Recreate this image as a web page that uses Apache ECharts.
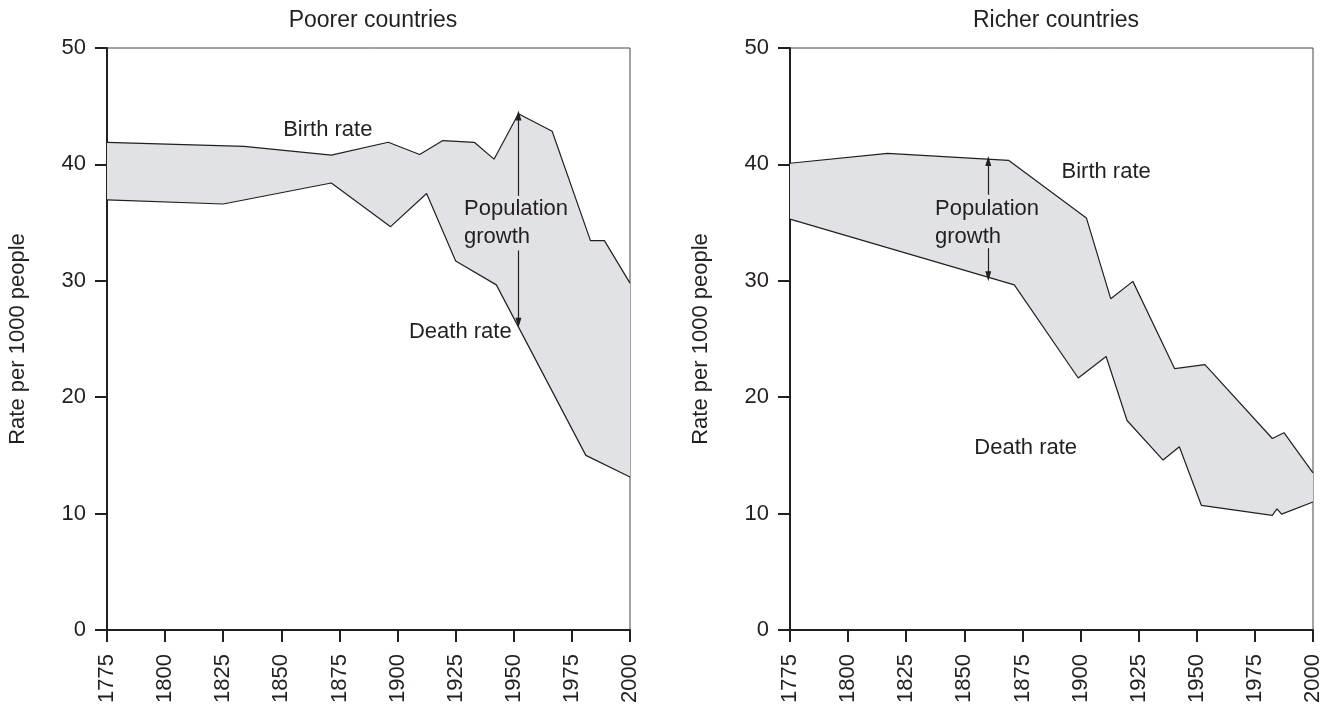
<!DOCTYPE html>
<html>
<head>
<meta charset="utf-8">
<script src="https://cdn.jsdelivr.net/npm/echarts@6/dist/echarts.min.js"></script>
<style>
html,body{margin:0;padding:0;background:#fff;}
#chart{width:1332px;height:709px;}
</style>
</head>
<body>
<div id="chart"></div>
<script>
// ---- Data ----
const panelTitles = ['Poorer countries', 'Richer countries'];
const yAxisName = 'Rate per 1000 people';

const poorBirthYears = [1775, 1834, 1871.5, 1896, 1909.5, 1919.5, 1933, 1941.5, 1952, 1966.5, 1983, 1989, 2000];
const poorBirthRates = [41.9, 41.55, 40.8, 41.9, 40.85, 42.05, 41.9, 40.45, 44.35, 42.85, 33.45, 33.45, 29.8];
const poorDeathYears = [1775, 1825, 1871.5, 1897, 1912.5, 1925, 1942.5, 1981, 2000];
const poorDeathRates = [36.95, 36.6, 38.4, 34.65, 37.5, 31.7, 29.65, 15.0, 13.15];

const richBirthYears = [1775, 1817, 1869, 1902.5, 1913, 1922.5, 1940.5, 1953.5, 1982.5, 1987.5, 2000];
const richBirthRates = [40.1, 40.95, 40.35, 35.4, 28.45, 29.95, 22.45, 22.8, 16.45, 16.95, 13.5];
const richDeathYears = [1775, 1871.5, 1899, 1911, 1920, 1935.5, 1942.5, 1952, 1982.5, 1984.5, 1986.5, 2000];
const richDeathRates = [35.3, 29.65, 21.65, 23.5, 18.0, 14.6, 15.75, 10.7, 9.85, 10.4, 9.95, 11.0];

// Annotation texts and anchor points (data coordinates)
const labelTexts = ['Birth rate', 'Population\ngrowth', 'Death rate'];
const poorLabelYears = [1870, 1928.6, 1949.1];
const poorLabelValues = [43.0, 35.0, 25.6];
const richLabelYears = [1911, 1837.4, 1898.5];
const richLabelValues = [39.35, 35.0, 15.6];

// Population growth arrows: year, top, gap top, gap bottom, bottom
const poorArrow = [1952, 44.2, 37.3, 32.6, 26.4];
const richArrow = [1860.3, 40.3, 37.4, 32.8, 30.4];

// ---- Chart ----
const FONT = 'Liberation Sans, Arial, Helvetica, sans-serif';
const TXT = '#231f20';
const FILL = '#e1e2e6';
const LINE = '#231f20';

function zip(xs, ys) { return xs.map((x, i) => [x, ys[i]]); }

function bandSeries(idx, bx, by, dx, dy) {
  return {
    type: 'custom', xAxisIndex: idx, yAxisIndex: idx, z: 1, silent: true,
    data: [[bx[0], by[0]]],
    renderItem: function (params, api) {
      const pts = [];
      for (let i = 0; i < bx.length; i++) pts.push(api.coord([bx[i], by[i]]));
      for (let i = dx.length - 1; i >= 0; i--) pts.push(api.coord([dx[i], dy[i]]));
      return { type: 'polygon', shape: { points: pts }, style: { fill: FILL, stroke: null } };
    }
  };
}

function lineSeries(idx, xs, ys) {
  return {
    type: 'line', xAxisIndex: idx, yAxisIndex: idx, z: 3, silent: true,
    data: zip(xs, ys), symbol: 'none', animation: false,
    lineStyle: { color: LINE, width: 1.2 }
  };
}

function arrowSeries(idx, a) {
  return {
    type: 'line', xAxisIndex: idx, yAxisIndex: idx, z: 4, silent: true, data: [],
    markLine: {
      silent: true, animation: false,
      symbol: ['none', 'path://M0,0L3,10L-3,10Z'],
      symbolSize: 10,
      symbolKeepAspect: true,
      lineStyle: { color: LINE, width: 1.2, type: 'solid' },
      itemStyle: { color: LINE },
      label: { show: false },
      data: [
        [{ coord: [a[0], a[2]] }, { coord: [a[0], a[1]] }],
        [{ coord: [a[0], a[3]] }, { coord: [a[0], a[4]] }]
      ]
    }
  };
}

function labelSeries(idx, xs, ys) {
  const aligns = ['center', 'left', 'right'];
  return {
    type: 'scatter', xAxisIndex: idx, yAxisIndex: idx, z: 5, silent: true,
    symbolSize: 0,
    itemStyle: { opacity: 1 },
    data: xs.map((x, i) => ({
      value: [x, ys[i]],
      label: {
        show: true, position: 'inside', formatter: labelTexts[i],
        align: aligns[i], verticalAlign: 'middle', opacity: 1,
        textBorderWidth: 0,
        fontSize: 22, lineHeight: 28, color: TXT, fontFamily: FONT
      }
    }))
  };
}

function xAxisCfg(idx) {
  return {
    type: 'value', gridIndex: idx, min: 1775, max: 2000, interval: 25,
    axisLine: { show: true, onZero: false, lineStyle: { color: TXT, width: 2 } },
    axisTick: { show: true, inside: false, length: 12, lineStyle: { color: TXT, width: 2 } },
    axisLabel: { rotate: 90, fontSize: 22, color: TXT, fontFamily: FONT, margin: 24,
      formatter: function (v) { return String(v); } },
    splitLine: { show: false }
  };
}
function yAxisCfg(idx) {
  return {
    type: 'value', gridIndex: idx, min: 0, max: 50, interval: 10,
    name: yAxisName, nameLocation: 'middle', nameGap: 78,
    nameTextStyle: { fontSize: 22, color: TXT, fontFamily: FONT },
    axisLine: { show: true, onZero: false, lineStyle: { color: TXT, width: 2 } },
    axisTick: { show: true, inside: false, length: 12, lineStyle: { color: TXT, width: 2 } },
    axisLabel: { fontSize: 22, color: TXT, fontFamily: FONT, margin: 21 },
    splitLine: { show: false }
  };
}

const chart = echarts.init(document.getElementById('chart'), null, { renderer: 'canvas' });
chart.setOption({
  animation: false,
  backgroundColor: '#ffffff',
  textStyle: { fontFamily: FONT },
  title: [
    { text: panelTitles[0], left: 368, top: 4, textAlign: 'center',
      textStyle: { fontSize: 23, fontWeight: 'normal', color: TXT, fontFamily: FONT } },
    { text: panelTitles[1], left: 1051, top: 4, textAlign: 'center',
      textStyle: { fontSize: 23, fontWeight: 'normal', color: TXT, fontFamily: FONT } }
  ],
  grid: [
    { left: 107, top: 48, width: 523, height: 582, show: true, borderColor: '#444', borderWidth: 1, backgroundColor: 'transparent' },
    { left: 790, top: 48, width: 523, height: 582, show: true, borderColor: '#444', borderWidth: 1, backgroundColor: 'transparent' }
  ],
  xAxis: [xAxisCfg(0), xAxisCfg(1)],
  yAxis: [yAxisCfg(0), yAxisCfg(1)],
  series: [
    bandSeries(0, poorBirthYears, poorBirthRates, poorDeathYears, poorDeathRates),
    lineSeries(0, poorBirthYears, poorBirthRates),
    lineSeries(0, poorDeathYears, poorDeathRates),
    arrowSeries(0, poorArrow),
    labelSeries(0, poorLabelYears, poorLabelValues),
    bandSeries(1, richBirthYears, richBirthRates, richDeathYears, richDeathRates),
    lineSeries(1, richBirthYears, richBirthRates),
    lineSeries(1, richDeathYears, richDeathRates),
    arrowSeries(1, richArrow),
    labelSeries(1, richLabelYears, richLabelValues)
  ]
});
</script>
</body>
</html>
